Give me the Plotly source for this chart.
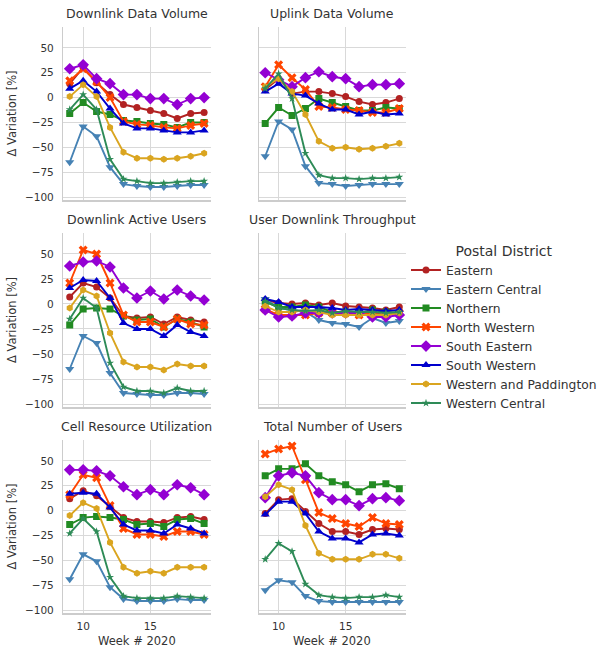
import plotly.graph_objects as go

WEEKS = [9, 10, 11, 12, 13, 14, 15, 16, 17, 18, 19]

DISTRICTS = ["Eastern", "Eastern Central", "Northern", "North Western",
             "South Eastern", "South Western", "Western and Paddington", "Western Central"]

TITLES = ["Downlink Data Volume", "Uplink Data Volume",
          "Downlink Active Users", "User Downlink Throughput",
          "Cell Resource Utilization", "Total Number of Users"]

Y_TICKS = [-100, -75, -50, -25, 0, 25, 50]
Y_TICK_TEXT = ["\u2212100", "\u221275", "\u221250", "\u221225", "0", "25", "50"]
X_TICKS = [10, 15]
X_TICK_TEXT = ["10", "15"]

# values per metric, one list per district (same order as DISTRICTS)
DL_VOLUME = [
    [14, 30, 15, 3, -7, -10, -13, -16, -21, -16, -15],
    [-65, -29, -39, -70, -87, -89, -90, -90, -89, -88, -88],
    [-16, -5, -14, -17, -23, -24, -26, -27, -30, -25, -25],
    [17, 29, 16, 0, -24, -27, -28, -30, -31, -28, -26],
    [29, 33, 19, 14, 3, 3, -1, -1, -7, -1, 0],
    [9, 17, 6, -11, -26, -31, -31, -33, -35, -35, -33],
    [1, 13, 1, -30, -55, -61, -61, -62, -61, -59, -56],
    [-12, 3, -12, -62, -82, -84, -86, -86, -85, -84, -84],
]
UL_VOLUME = [
    [8, 19, 4, 6, 6, 4, 1, -4, -7, -5, -1],
    [-59, -24, -32, -69, -86, -87, -89, -88, -87, -87, -87],
    [-26, -10, -18, -11, -1, -5, -9, -13, -13, -10, -11],
    [11, 33, 20, 8, -9, -10, -12, -13, -15, -15, -11],
    [25, 18, 11, 20, 26, 21, 19, 11, 13, 13, 14],
    [6, 14, 4, 2, -6, -12, -12, -17, -14, -17, -16],
    [11, 19, 6, -17, -44, -51, -50, -52, -51, -49, -46],
    [9, 24, -1, -56, -78, -81, -81, -82, -81, -81, -80],
]
DL_ACTIVE_USERS = [
    [7, 21, 17, 6, -12, -14, -13, -20, -13, -16, -18],
    [-65, -32, -39, -69, -89, -90, -91, -91, -89, -89, -90],
    [-21, -5, -4, -5, -12, -16, -15, -23, -15, -18, -23],
    [21, 54, 50, 21, -11, -18, -18, -23, -15, -20, -21],
    [38, 42, 43, 37, 16, 6, 13, 5, 14, 8, 4],
    [16, 24, 23, 6, -19, -25, -25, -32, -21, -28, -32],
    [-4, 14, 8, -29, -58, -63, -63, -66, -60, -62, -62],
    [-15, 6, -4, -59, -83, -87, -87, -89, -84, -87, -87],
]
DL_THROUGHPUT = [
    [4, 1, 0, 1, -1, 1, -2, -3, -4, -6, -3],
    [5, -4, -6, -8, -16, -19, -20, -23, -14, -19, -17],
    [2, -3, -3, -1, -3, -8, -8, -9, -6, -8, -9],
    [-5, -11, -11, -11, -9, -9, -9, -11, -9, -11, -9],
    [-6, -13, -12, -9, -9, -9, -9, -9, -13, -13, -11],
    [5, 2, -3, -3, -3, -4, -6, -5, -6, -7, -6],
    [-2, -8, -8, -6, -8, -11, -11, -11, -11, -11, -9],
    [3, -4, -6, -7, -6, -9, -7, -8, -8, -9, -8],
]
CELL_UTILIZATION = [
    [12, 20, 15, 4, -7, -11, -11, -12, -7, -6, -9],
    [-69, -44, -51, -77, -89, -91, -91, -91, -89, -90, -90],
    [-14, -7, -6, -7, -9, -14, -13, -16, -9, -8, -13],
    [16, 36, 33, 5, -18, -24, -24, -26, -21, -21, -24],
    [41, 41, 40, 35, 24, 16, 21, 16, 26, 23, 16],
    [17, 18, 17, 3, -14, -20, -20, -23, -14, -18, -23],
    [-5, 8, 2, -32, -57, -63, -61, -63, -57, -57, -57],
    [-23, -8, -21, -67, -86, -88, -88, -88, -86, -87, -88],
]
TOTAL_USERS = [
    [-3, 11, 12, -1, -13, -21, -21, -24, -19, -18, -19],
    [-80, -70, -72, -86, -91, -92, -92, -92, -92, -92, -92],
    [35, 42, 42, 47, 35, 29, 26, 19, 26, 27, 22],
    [57, 62, 65, 31, -2, -8, -13, -16, -7, -13, -14],
    [13, 35, 38, 35, 18, 11, 11, 5, 12, 13, 10],
    [-4, 9, 9, -3, -21, -28, -28, -32, -24, -23, -25],
    [14, 26, 21, -15, -43, -49, -49, -49, -44, -44, -48],
    [-49, -33, -41, -74, -85, -87, -88, -87, -87, -85, -87],
]

METRICS = [DL_VOLUME, UL_VOLUME, DL_ACTIVE_USERS, DL_THROUGHPUT, CELL_UTILIZATION, TOTAL_USERS]

COLORS = ["#b22222", "#4682b4", "#228b22", "#ff4500", "#9400d3", "#0000cd", "#daa520", "#2e8b57"]
SYMBOLS = ["circle", "triangle-down", "square", "x", "diamond", "triangle-up", "hexagon", "star"]
SIZES = [7, 8, 7, 8, 9, 8, 7, 6]

FONT = "DejaVu Sans, Arial, sans-serif"
TXT = "#333333"
GRID = "#d9d9d9"

COL_DOM = [[0.0, 0.431], [0.57, 1.0]]
ROW_DOM = [[0.7048, 1.0], [0.3515, 0.6485], [0.0, 0.2952]]

fig = go.Figure()
layout = {}
annotations = []
for i, metric in enumerate(METRICS):
    r, c = divmod(i, 2)
    n = "" if i == 0 else str(i + 1)
    for d, name in enumerate(DISTRICTS):
        fig.add_trace(go.Scatter(
            x=WEEKS, y=metric[d], mode="lines+markers", name=name,
            legendgroup=name, showlegend=(i == 0),
            line=dict(color=COLORS[d], width=1.9),
            marker=dict(color=COLORS[d], symbol=SYMBOLS[d], size=SIZES[d], line=dict(width=0)),
            xaxis="x" + n, yaxis="y" + n,
        ))
    layout["xaxis" + n] = dict(
        domain=COL_DOM[c], anchor="y" + n, range=[8.5, 19.5],
        tickvals=X_TICKS, ticktext=X_TICK_TEXT, showticklabels=(r == 2),
        showgrid=True, gridcolor=GRID, gridwidth=1, zeroline=False,
        showline=True, linecolor="#cccccc", linewidth=1.5,
        ticks="", ticklabelstandoff=3,
        tickfont=dict(family=FONT, size=10.5, color=TXT),
    )
    layout["yaxis" + n] = dict(
        domain=ROW_DOM[r], anchor="x" + n, range=[-103, 71],
        tickvals=Y_TICKS, ticktext=Y_TICK_TEXT, showticklabels=(c == 0),
        showgrid=True, gridcolor=GRID, gridwidth=1, zeroline=False,
        showline=True, linecolor="#cccccc", linewidth=1.2,
        ticks="", ticklabelstandoff=6,
        tickfont=dict(family=FONT, size=10.5, color=TXT),
    )
    annotations.append(dict(
        text=TITLES[i], xref="paper", yref="paper",
        x=(COL_DOM[c][0] + COL_DOM[c][1]) / 2, y=ROW_DOM[r][1],
        xanchor="center", yanchor="bottom", yshift=4, showarrow=False,
        font=dict(family=FONT, size=12.5, color=TXT),
    ))
    if c == 0:
        annotations.append(dict(
            text="\u0394 Variation [%]", xref="paper", yref="paper",
            x=-0.1487, y=(ROW_DOM[r][0] + ROW_DOM[r][1]) / 2,
            xanchor="center", yanchor="middle", textangle=-90, showarrow=False,
            font=dict(family=FONT, size=11.5, color=TXT),
        ))
    if r == 2:
        annotations.append(dict(
            text="Week # 2020", xref="paper", yref="paper",
            x=(COL_DOM[c][0] + COL_DOM[c][1]) / 2, y=0,
            xanchor="center", yanchor="middle", yshift=-28, showarrow=False,
            font=dict(family=FONT, size=11.5, color=TXT),
        ))

fig.update_layout(
    **layout,
    annotations=annotations,
    width=598, height=651,
    margin=dict(l=63, r=192, t=27, b=38, autoexpand=False),
    paper_bgcolor="white", plot_bgcolor="white",
    font=dict(family=FONT, color=TXT),
    legend=dict(
        x=1.0, xanchor="left", y=0.641, yanchor="top",
        bgcolor="rgba(0,0,0,0)", tracegroupgap=0,
        font=dict(family=FONT, size=12.3, color=TXT),
        title=dict(text="Postal District", side="top center",
                   font=dict(family=FONT, size=14, color=TXT)),
    ),
)

fig.write_html("out.html", config={"displayModeBar": False},
               post_script="document.body.style.margin='0';")
